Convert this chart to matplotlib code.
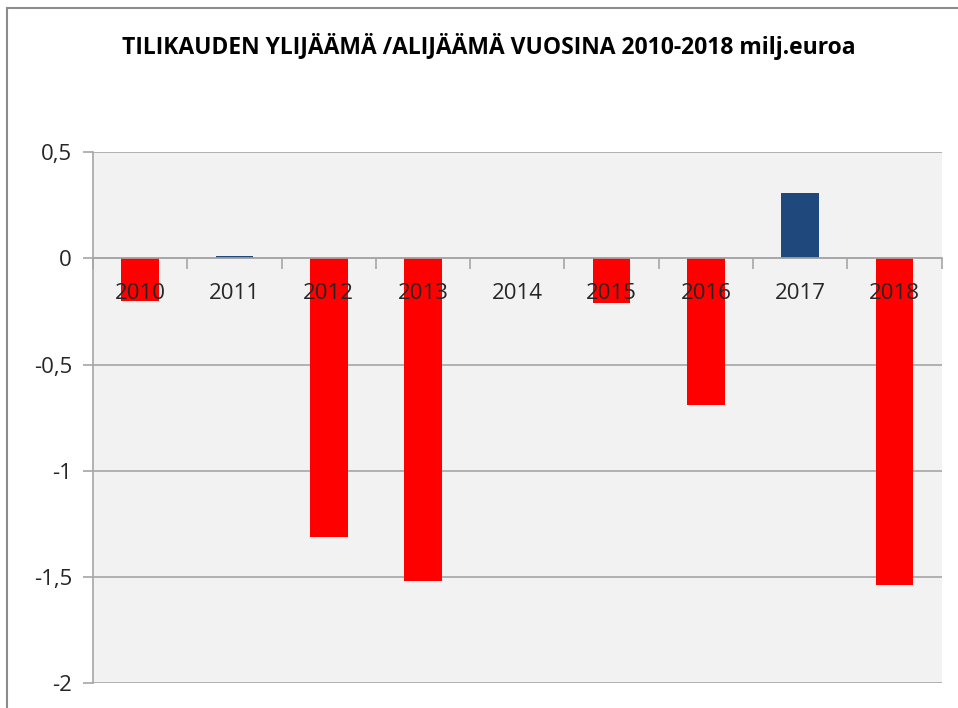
import matplotlib
matplotlib.use('Agg')
import matplotlib.pyplot as plt
from matplotlib.patches import Rectangle
from matplotlib.ticker import FuncFormatter
from matplotlib.transforms import offset_copy
import numpy as np

years = ['2010', '2011', '2012', '2013', '2014', '2015', '2016', '2017', '2018']
values = [-0.20, 0.01, -1.31, -1.52, 0.0, -0.21, -0.69, 0.31, -1.54]
title = 'TILIKAUDEN YLIJÄÄMÄ /ALIJÄÄMÄ VUOSINA 2010-2018 milj.euroa'

plt.rcParams['font.family'] = ['Open Sans', 'DejaVu Sans']

fig = plt.figure(figsize=(9.58, 7.08), dpi=100)
fig.patches.append(Rectangle((0.007, -0.1), 1.2, 1.089, transform=fig.transFigure,
                             fill=False, edgecolor='#8c8c8c', linewidth=1.5))

ax = fig.add_axes([0.097, 0.0353, 0.886, 0.7497])
ax.set_facecolor('#f2f2f2')

x = np.arange(len(years))
colors = ['#1f497d' if v > 0 else '#ff0000' for v in values]
ax.bar(x, values, width=0.4, color=colors, zorder=3)

ax.set_xlim(-0.5, len(years) - 0.5)
ax.set_ylim(-2, 0.5)
ax.set_yticks([0.5, 0, -0.5, -1, -1.5, -2])
ax.yaxis.set_major_formatter(FuncFormatter(lambda v, p: ('%g' % v).replace('.', ',')))
ax.grid(axis='y', color='#a6a6a6', linewidth=1.2, zorder=1)

for s in ['top', 'right']:
    ax.spines[s].set_visible(False)
ax.spines['left'].set_color('#a6a6a6')
ax.spines['left'].set_linewidth(1.2)
ax.spines['bottom'].set_position(('data', 0))
ax.spines['bottom'].set_color('#a6a6a6')
ax.spines['bottom'].set_linewidth(1.2)
ax.spines['bottom'].set_zorder(4)

ax.set_xticks(np.arange(len(years) + 1) - 0.5)
ax.set_xticklabels([])
ax.tick_params(axis='x', which='major', length=8, color='#a6a6a6', width=1.2, direction='out')
ax.tick_params(axis='y', length=7, color='#a6a6a6', width=1.2, pad=8, labelsize=16, labelcolor='#262626')

# year labels drawn above the bars
trans = offset_copy(ax.transData, fig=fig, x=0, y=-35, units='dots')
for xi, yr in zip(x, years):
    ax.text(xi, 0, yr, transform=trans, ha='center', va='center', fontsize=16,
            color='#262626', zorder=6)

fig.text(0.51, 0.935, title, ha='center', va='center', fontsize=16.5, fontweight='bold',
         color='black')

plt.savefig('out.png', dpi=100)
